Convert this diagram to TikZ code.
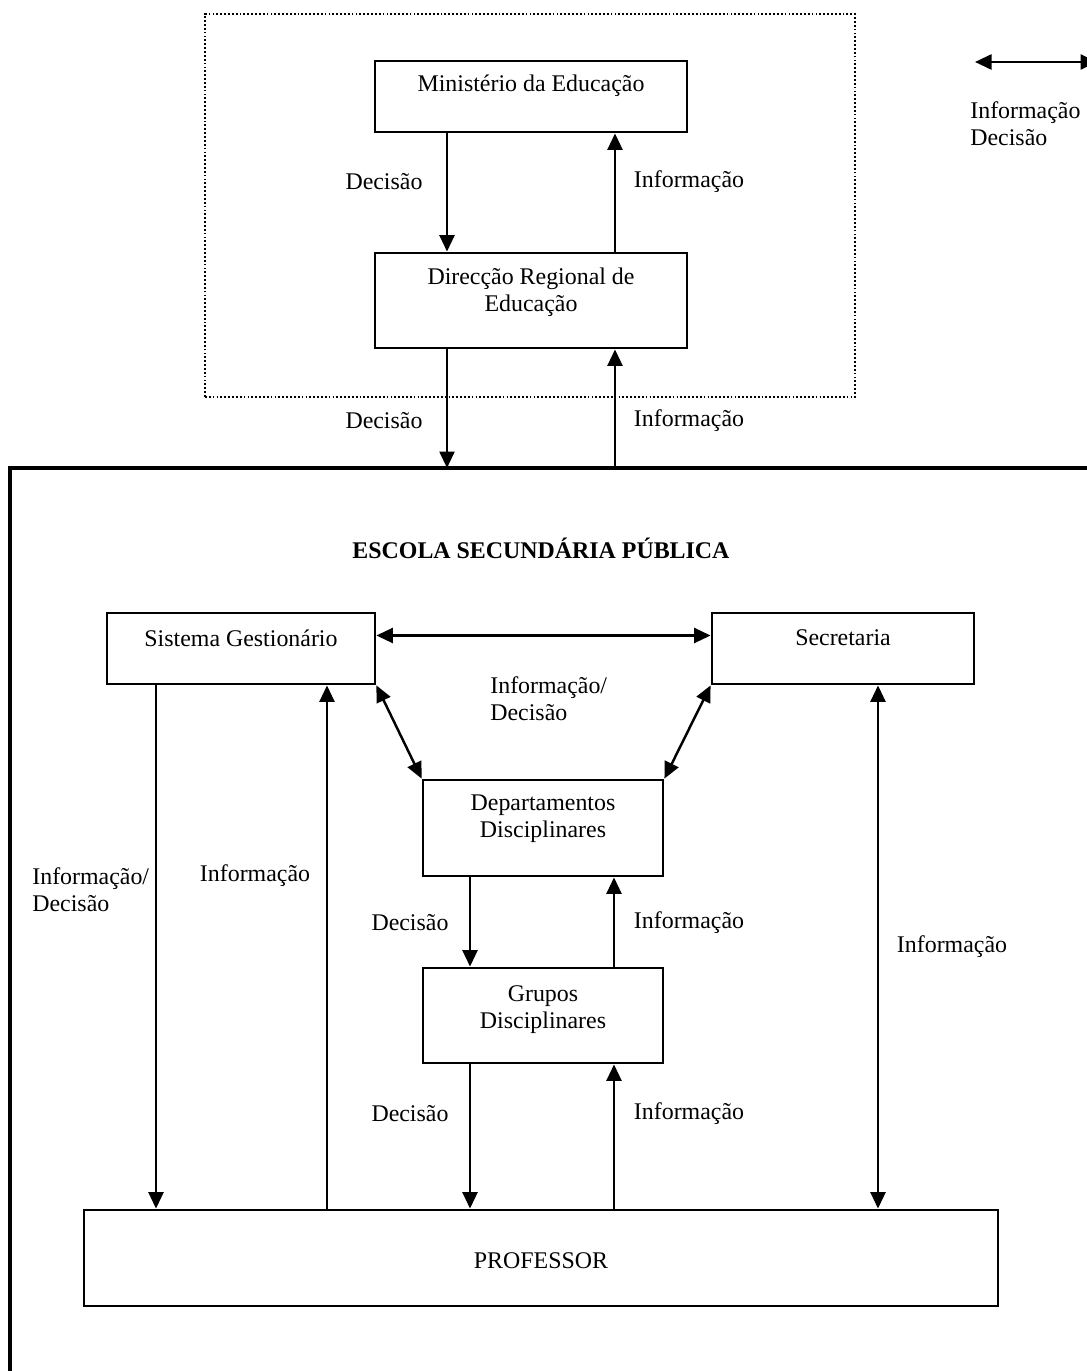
\documentclass[tikz,border=0pt]{standalone}
\usepackage{fontspec}
\setmainfont{Liberation Serif}
\usetikzlibrary{arrows.meta,calc,fit}
\begin{document}
\begin{tikzpicture}[x=0.02cm,y=-0.02cm,
  font=\fontsize{13.6}{15.4}\selectfont,
  box/.style={draw,line width=1.6pt,inner sep=0pt},
  txt/.style={inner sep=0pt,align=center},
  ltxt/.style={inner sep=0pt,align=left,anchor=west},
  tip/.tip={Triangle[length=0.33cm,width=0.3cm]},
  arr/.style={line width=1.4pt,-tip},
  darr/.style={line width=1.4pt,tip-tip}]
\useasboundingbox (0,0) rectangle (1086,1371);

% regional administration (dotted frame)
\node[draw,dash pattern=on 1pt off 1.2pt,line width=1pt,inner sep=0pt,fit={(205,14) (855,397)}] (region) {};

% boxes
\node[box,fit={(375,61) (687,132)}] (min) {};
\node[box,fit={(375,253) (687,348)}] (dre) {};
\node[box,fit={(107,613) (375,684)}] (sg) {};
\node[box,fit={(712,613) (974,684)}] (sec) {};
\node[box,fit={(423,780) (663,876)}] (dep) {};
\node[box,fit={(423,968) (663,1063)}] (gru) {};
\node[box,fit={(84,1210) (998,1306)}] (prof) {};

% box texts
\node[txt] (minT) at (531,86) {Ministério da Educação};
\node[txt] (dreT) at (531,292) {Direcção Regional de\\Educação};
\node[txt] (sgT) at (241,638) {Sistema Gestionário};
\node[txt] (secT) at (843,638) {Secretaria};
\node[txt] (depT) at (543,819) {Departamentos\\Disciplinares};
\node[txt] (gruT) at (543,1010) {Grupos\\Disciplinares};
\node[txt] (profT) at (541,1261) {PROFESSOR};

% school frame (open to the right and bottom)
\coordinate (schoolTL) at (10,468);
\draw[line width=2pt] (1100,468) -- (schoolTL) -- (10,1380);
\node[txt,font=\fontsize{13.6}{15.4}\selectfont\bfseries] (escola) at (541,548) {ESCOLA SECUNDÁRIA PÚBLICA};

% ministry <-> regional direction
\draw[arr] (447,0 |- min.south) -- (447,0 |- dre.north);
\draw[arr] (615,0 |- dre.north) -- (615,0 |- min.south);
\node[txt] (l1) at (384,182) {Decisão};
\node[txt] (l2) at (689,182) {Informação};

% regional direction <-> school
\draw[arr] (447,0 |- dre.south) -- (447,0 |- schoolTL);
\draw[arr] (615,0 |- schoolTL) -- (615,0 |- dre.south);
\node[txt] (l3) at (384,421) {Decisão};
\node[txt] (l4) at (689,421) {Informação};

% management <-> secretariat <-> departments
\draw[darr] ([yshift=0.26cm]sg.east) -- ([yshift=0.26cm]sec.west);
\draw[darr] (sg.south east) -- (dep.north west);
\draw[darr] (sec.south west) -- (dep.north east);
\node[ltxt] (l5) at (490,699) {Informação/\\Decisão};

% departments <-> groups
\draw[arr] (470,0 |- dep.south) -- (470,0 |- gru.north);
\draw[arr] (614,0 |- gru.north) -- (614,0 |- dep.south);
\node[txt] (l6) at (410,923) {Decisão};
\node[txt] (l7) at (689,923) {Informação};

% groups <-> teacher
\draw[arr] (470,0 |- gru.south) -- (470,0 |- prof.north);
\draw[arr] (614,0 |- prof.north) -- (614,0 |- gru.south);
\node[txt] (l8) at (410,1114) {Decisão};
\node[txt] (l9) at (689,1114) {Informação};

% management <-> teacher
\draw[arr] (156,0 |- sg.south) -- (156,0 |- prof.north);
\draw[arr] (327,0 |- prof.north) -- (327,0 |- sg.south);
\node[ltxt] (l10) at (32,890) {Informação/\\Decisão};
\node[txt] (l11) at (255,876) {Informação};

% secretariat <-> teacher
\draw[darr] (878,0 |- sec.south) -- (878,0 |- prof.north);
\node[txt] (l12) at (952,947) {Informação};

% legend
\coordinate (legL) at (975,62);
\coordinate (legR) at (1097,62);
\draw[darr] (legL) -- (legR);
\node[ltxt] (legT) at (970,124) {Informação\\Decisão};
\end{tikzpicture}
\end{document}
